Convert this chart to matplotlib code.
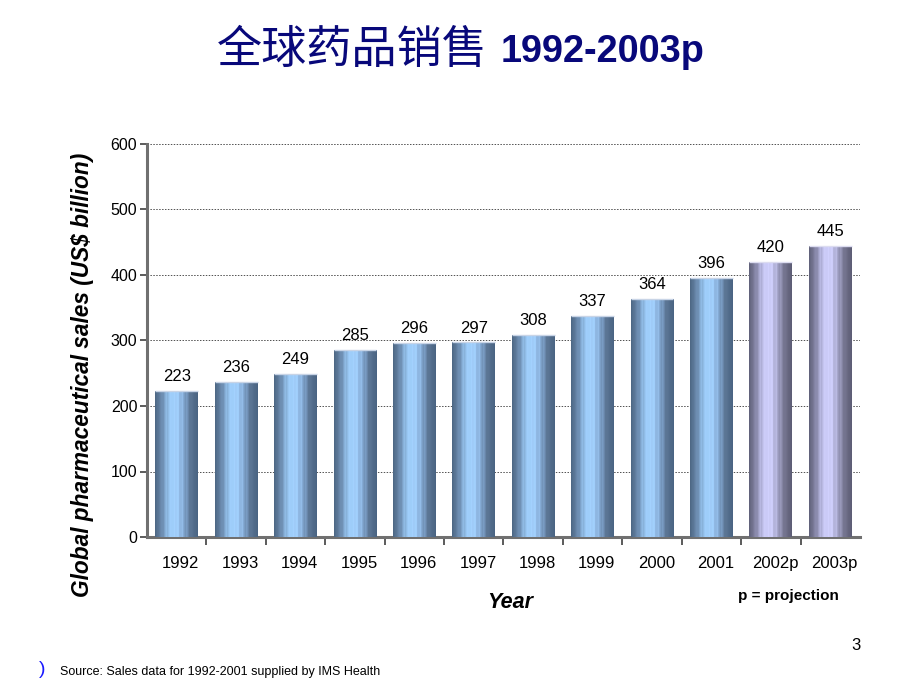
import matplotlib
matplotlib.use("Agg")
import matplotlib.pyplot as plt
import numpy as np
from matplotlib.colors import LinearSegmentedColormap
from matplotlib.ticker import FixedLocator

plt.rcParams['font.family'] = ['Liberation Sans', 'Noto Sans CJK SC', 'DejaVu Sans']

years = ["1992", "1993", "1994", "1995", "1996", "1997", "1998", "1999",
         "2000", "2001", "2002p", "2003p"]
sales = [223, 236, 249, 285, 296, 297, 308, 337, 364, 396, 420, 445]
projected = [False] * 10 + [True, True]

fig = plt.figure(figsize=(9.2, 6.9), dpi=100)
ax = fig.add_axes([147/920, 1-537/690, (860-147)/920, (537-144)/690])

x = np.arange(len(years))
bars = ax.bar(x, sales, width=0.72, color='none', edgecolor='none', zorder=3)

blue_cmap = LinearSegmentedColormap.from_list(
    'b', ['#4c6683', '#6f8fb3', '#9cccf8', '#a4d2ff', '#86acd6', '#5b7594', '#4a6482'])
purp_cmap = LinearSegmentedColormap.from_list(
    'p', ['#5f6078', '#8c8cae', '#c8c8f4', '#d2d2ff', '#a8a8cc', '#74748f', '#5c5c74'])

t = np.linspace(0, 1, 200)
stripes = 0.06 * np.sin(t * 2 * np.pi * 9) + 0.04 * np.sin(t * 2 * np.pi * 23)
grad = np.clip(t + stripes * (1 - np.abs(2 * t - 1)), 0, 1)[None, :]

for rect, proj in zip(bars, projected):
    x0 = rect.get_x(); w = rect.get_width(); h = rect.get_height()
    im = ax.imshow(grad, extent=[x0, x0 + w, 0, h], aspect='auto',
                   cmap=purp_cmap if proj else blue_cmap, zorder=3,
                   origin='lower', interpolation='bilinear')
    im.set_clip_path(rect)
    ax.plot([x0, x0 + w], [h, h], color='#c8d4e6' if not proj else '#dcdcf0',
            lw=1.0, zorder=4, solid_capstyle='butt')

for xi, v in zip(x, sales):
    ax.annotate(str(v), (xi, v), xytext=(0, 5), textcoords='offset points',
                ha='center', va='bottom', fontsize=12, color='black')

ax.set_xlim(-0.5, len(years) - 0.5)
ax.set_ylim(0, 600)
ax.set_yticks(np.arange(0, 601, 100))
ax.set_xticks(x + 0.07)
ax.set_xticklabels(years, fontsize=12)
ax.xaxis.set_minor_locator(FixedLocator(np.arange(0.5, len(years) - 0.5, 1)))
ax.tick_params(axis='x', which='major', length=0, pad=14)
ax.tick_params(axis='x', which='minor', length=6, width=1.2, color='#404040', direction='out')
ax.tick_params(axis='y', length=5, width=1.2, color='#404040', labelsize=11.5, pad=2)

for s in ['top', 'right']:
    ax.spines[s].set_visible(False)
for s in ['left', 'bottom']:
    ax.spines[s].set_color('#707070')
    ax.spines[s].set_linewidth(2.2)

ax.yaxis.grid(True, linestyle=(0, (1.5, 1.5)), color='#505050', linewidth=0.7)
ax.set_axisbelow(True)

fig.text(83/920, 1 - 375/690, "Global pharmaceutical sales (US$ billion)", rotation=90,
         ha='center', va='center', fontsize=16.3, fontweight='bold', style='italic')
fig.text(510/920, 1 - 602/690, "Year", ha='center', va='center',
         fontsize=15.5, fontweight='bold', style='italic')
fig.text(788/920, 1 - 596/690, "p = projection", ha='center', va='center',
         fontsize=11, fontweight='bold')

title_color = '#08087a'
fig.text(488/920, 1 - 50/690, "全球药品销售", ha='right', va='center',
         fontsize=32.5, color=title_color, family=['Noto Sans CJK SC'])
fig.text(501/920, 1 - 52/690, "1992-2003p", ha='left', va='center',
         fontsize=27.3, fontweight='bold', color=title_color)

fig.text(856/920, 1 - 646/690, "3", ha='center', va='center', fontsize=12)
fig.text(42/920, 1 - 670/690, ")", ha='center', va='center', fontsize=14, color='#1a1aff')
fig.text(60/920, 1 - 672/690, "Source: Sales data for 1992-2001 supplied by IMS Health",
         ha='left', va='center', fontsize=9)

fig.savefig("out.png", dpi=100)
